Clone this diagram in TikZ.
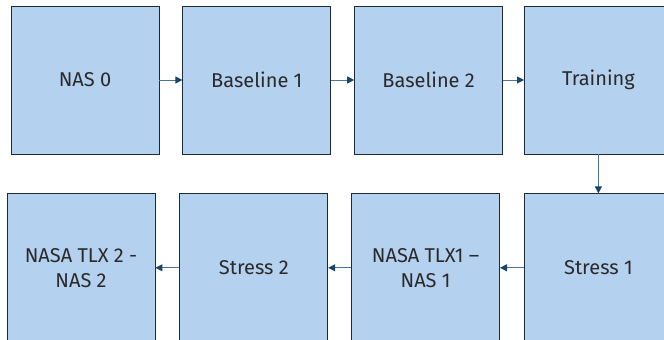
\documentclass[tikz,border=0pt]{standalone}
\usepackage{fontspec}
\setmainfont{Fira Sans}
\usetikzlibrary{arrows.meta,positioning}
\definecolor{boxfill}{HTML}{B4D1EF}
\definecolor{boxline}{HTML}{1C2B3C}
\definecolor{flowline}{HTML}{4F7392}
\definecolor{flowtip}{HTML}{15466F}
\definecolor{labeltext}{HTML}{2A2A2A}

\begin{document}
\begin{tikzpicture}[
  x=1pt,y=-1pt,
  node distance=23pt and 23pt,
  phase/.style={draw=boxline,fill=boxfill,line width=0.8pt,minimum width=148pt,minimum height=148pt,
    align=center,inner sep=2pt,text=labeltext,font=\fontsize{20}{25}\selectfont},
  flow/.style={draw=flowline,line width=0.9pt,-{Triangle[length=7pt,width=7pt,color=flowtip]}}
]
  \useasboundingbox (0,0) rectangle (664,340);

  \node[phase] (nas0) at (85,80) {NAS 0};
  \node[phase,right=of nas0] (base1) {Baseline 1};
  \node[phase,right=of base1] (base2) {Baseline 2};
  \node[phase,right=21pt of base2] (train) {Training};
  \node[phase,below=39pt of train] (stress1) {Stress 1};
  \node[phase,left=24pt of stress1] (tlx1) {NASA TLX1 –\\NAS 1};
  \node[phase,left=of tlx1] (stress2) {Stress 2};
  \node[phase,left=24pt of stress2] (tlx2) {NASA TLX 2 -\\NAS 2};

  \draw[flow] (nas0) -- (base1);
  \draw[flow] (base1) -- (base2);
  \draw[flow] (base2) -- (train);
  \draw[flow] (train) -- (stress1);
  \draw[flow] (stress1) -- (tlx1);
  \draw[flow] (tlx1) -- (stress2);
  \draw[flow] (stress2) -- (tlx2);
\end{tikzpicture}
\end{document}
